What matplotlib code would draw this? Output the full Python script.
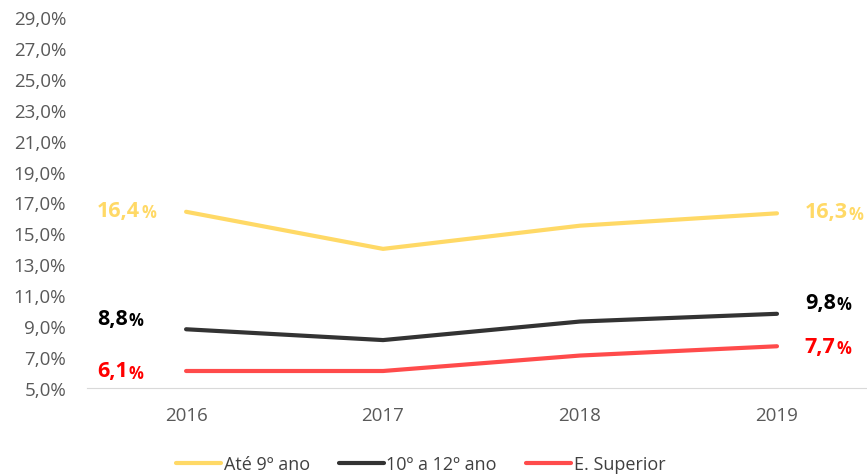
import matplotlib.pyplot as plt
import numpy as np

anos = ["2016", "2017", "2018", "2019"]
ate_9 = [16.4, 14.0, 15.5, 16.3]
secundario = [8.8, 8.1, 9.3, 9.8]
superior = [6.1, 6.1, 7.1, 7.7]
nomes = ["Até 9º ano", "10º a 12º ano", "E. Superior"]

cores = ["#FFD966", "#333333", "#FF4B4B"]
cores_txt = ["#FFD966", "#000000", "#FF0000"]
desvio_y = [1, 8, 0]  # pontos, para afastar os rotulos

plt.rcParams['font.family'] = ['Open Sans', 'DejaVu Sans']

fig = plt.figure(figsize=(8.67, 4.77), dpi=100)
ax = fig.add_axes([87/867, 1 - 389/477, 780/867, (389 - 18)/477])

x = np.arange(len(anos))
series = [ate_9, secundario, superior]
for s, c, n in zip(series, cores, nomes):
    ax.plot(x, s, color=c, lw=3, label=n, solid_capstyle='round')

def fmt(v):
    return f"{v:.1f}".replace(".", ",")

def rotulo(xv, yv, dx, dy, c):
    # numero em negrito + "%" mais pequeno logo a seguir
    t = ax.annotate(fmt(yv), (xv, yv), xytext=(dx, dy), textcoords='offset points',
                    ha='left', va='center', fontsize=15.5, fontweight='bold', color=c)
    ax.annotate("%", xy=(1, 0.42), xycoords=t, xytext=(0.5, 0), textcoords='offset points',
                ha='left', va='center', fontsize=12, fontweight='bold', color=c)

for s, c, dy in zip(series, cores_txt, desvio_y):
    rotulo(x[0], s[0], -64, dy, c)
    rotulo(x[-1], s[-1], 20, dy, c)

ax.set_ylim(5, 29)
ax.set_yticks(np.arange(5, 30, 2))
ax.set_yticklabels([fmt(v) + "%" for v in np.arange(5, 30, 2)])
ax.set_xlim(-0.503, 3.457)
ax.set_xticks(x)
ax.set_xticklabels(anos)
ax.tick_params(axis='both', length=0, colors='#595959', labelsize=13.5)
ax.tick_params(axis='x', pad=13)
ax.tick_params(axis='y', pad=15)
for side in ['top', 'right', 'left']:
    ax.spines[side].set_visible(False)
ax.spines['bottom'].set_color('#D9D9D9')

leg = fig.legend(loc='center', bbox_to_anchor=(0.485, 1 - 465/477), ncol=3, frameon=False,
                 fontsize=13, handlelength=2.5, handletextpad=0.15, columnspacing=1.6)
for t in leg.get_texts():
    t.set_color('#404040')

fig.savefig("out.png", dpi=100)
